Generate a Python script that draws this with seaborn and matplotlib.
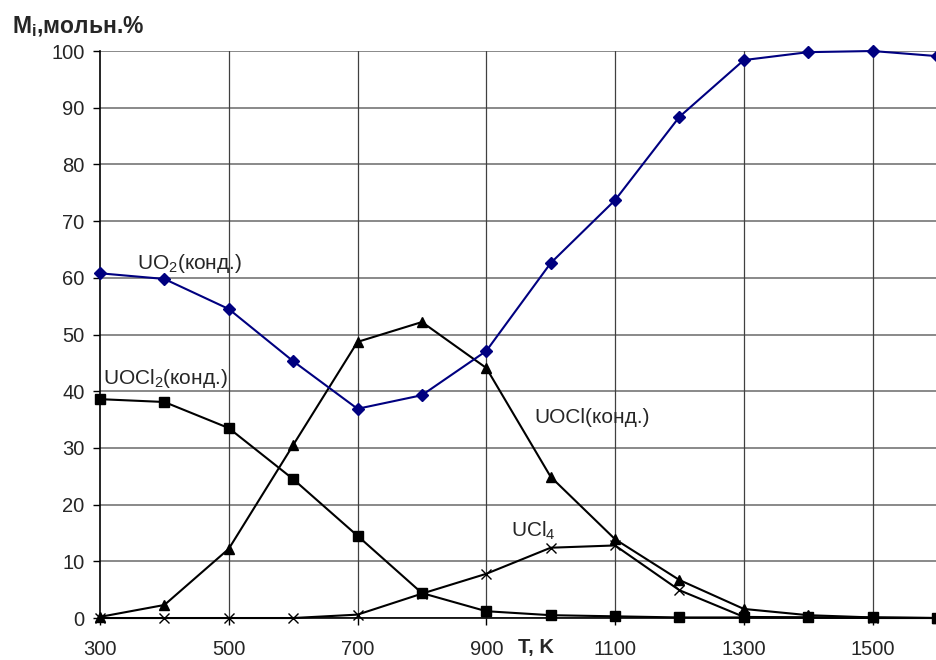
import matplotlib
matplotlib.use("Agg")
import matplotlib.pyplot as plt
import seaborn as sns
import pandas as pd

# temperature, K
T = [300, 400, 500, 600, 700, 800, 900, 1000, 1100, 1200, 1300, 1400, 1500, 1600]

# mole fractions, %
uo2 = [60.8, 59.8, 54.5, 45.3, 36.9, 39.3, 47.1, 62.6, 73.7, 88.4, 98.4, 99.8, 100.0, 99.1]
uocl2 = [38.6, 38.1, 33.5, 24.5, 14.5, 4.4, 1.2, 0.5, 0.3, 0.1, 0.1, 0.1, 0.1, 0.0]
uocl = [0.2, 2.3, 12.2, 30.5, 48.7, 52.2, 44.1, 24.9, 13.9, 6.7, 1.6, 0.5, 0.1, 0.0]
ucl4 = [0.0, 0.0, 0.0, 0.0, 0.6, 4.3, 7.8, 12.4, 12.8, 4.9, 0.2, 0.1, 0.0, 0.0]

x_ticks = [300, 500, 700, 900, 1100, 1300, 1500]
y_ticks = list(range(0, 101, 10))

df = pd.DataFrame({"T": T, "UO2": uo2, "UOCl2": uocl2, "UOCl": uocl, "UCl4": ucl4})

sns.set_style("white")
plt.rcParams["font.family"] = ["Liberation Sans", "DejaVu Sans"]
plt.rcParams["mathtext.fontset"] = "custom"
plt.rcParams["mathtext.rm"] = "Liberation Sans"
plt.rcParams["mathtext.it"] = "Liberation Sans"
plt.rcParams["mathtext.bf"] = "Liberation Sans:bold"

fig = plt.figure(figsize=(9.37, 6.6), dpi=100)
ax = fig.add_axes([0.1067, 0.0636, 0.8933, 0.8591])

# grid first so the lines sit under the series
for y in y_ticks:
    ax.axhline(y, color="#808080", lw=1.3, zorder=1)
for x in x_ticks[1:]:
    ax.axvline(x, color="#404040", lw=0.9, zorder=1)

series = [
    ("UCl4", "x", "black", 7),
    ("UOCl2", "s", "black", 7),
    ("UOCl", "^", "black", 7.5),
    ("UO2", "D", "#000080", 6.5),
]
for col, mk, c, ms in series:
    sns.lineplot(data=df, x="T", y=col, ax=ax, color=c, lw=1.5,
                 marker=mk, markersize=ms, markeredgecolor=c,
                 markeredgewidth=1.0, clip_on=False, zorder=3)

ax.set_xlim(300, 1600)
ax.set_ylim(0, 100)
ax.set_xticks(x_ticks)
ax.set_yticks(y_ticks)
fs = 14.5
ax.tick_params(axis="both", labelsize=fs, direction="out", length=5,
               width=1, color="black", left=True, bottom=True)
ax.tick_params(axis="x", pad=11)
ax.tick_params(axis="y", pad=6)
ax.set_xlabel("")
ax.set_ylabel("")

for s in ["top", "right"]:
    ax.spines[s].set_visible(False)
ax.spines["left"].set_color("black")
ax.spines["bottom"].set_color("black")
ax.spines["left"].set_linewidth(1.2)
ax.spines["bottom"].set_linewidth(1.2)

lfs = 15
ax.text(357, 62.6, "UO$_2$(конд.)", fontsize=lfs, va="center", ha="left")
ax.text(305, 42.3, "UOCl$_2$(конд.)", fontsize=lfs, va="center", ha="left")
ax.text(974, 35.3, "UOCl(конд.)", fontsize=lfs, va="center", ha="left")
ax.text(938, 15.3, "UCl$_4$", fontsize=lfs, va="center", ha="left")

fig.text(0.553, 1 - 648 / 660, "T, K", fontsize=fs, fontweight="bold",
         ha="left", va="center")
fig.text(0.013, 1 - 27 / 660, r"$\mathbf{M}_\mathbf{i}$,мольн.%", fontsize=16.5,
         fontweight="bold", ha="left", va="center")

fig.savefig("out.png", dpi=100)
